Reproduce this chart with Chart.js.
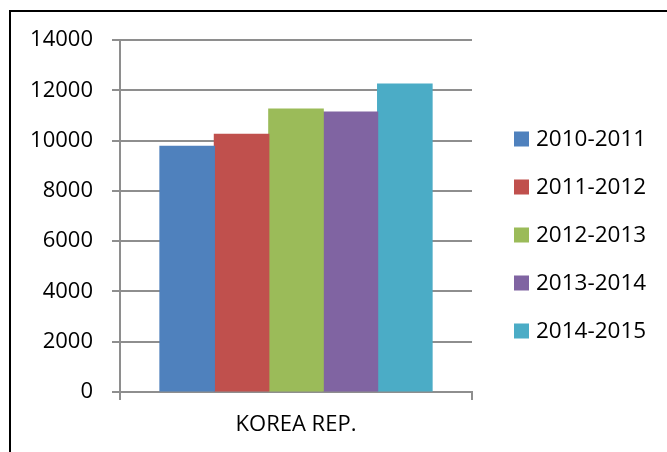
<!DOCTYPE html>
<html>
<head>
<meta charset="utf-8">
<script src="https://cdn.jsdelivr.net/npm/chart.js@4/dist/chart.umd.min.js"></script>
<style>
  html, body { margin: 0; padding: 0; background: #fff; }
  #wrap { position: relative; width: 667px; height: 452px; overflow: hidden; }
  #frame { position: absolute; left: 9px; top: 10px; width: 800px; height: 600px;
           border-left: 2px solid #000; border-top: 2px solid #000; z-index: 2; pointer-events: none; }
  canvas { position: absolute; left: 0; top: 0; }
</style>
</head>
<body>
<div id="wrap">
  <canvas id="c" width="667" height="452"></canvas>
  <div id="frame"></div>
</div>
<script>
const categories = ["KOREA REP."];
const seriesLabels = ["2010-2011", "2011-2012", "2012-2013", "2013-2014", "2014-2015"];
const seriesValues = [9770, 10250, 11250, 11130, 12250];
const seriesColors = ["#4F81BD", "#C0504D", "#9BBB59", "#8064A2", "#4BACC6"];
const yTicks = [0, 2000, 4000, 6000, 8000, 10000, 12000, 14000];

const FONT = "'Open Sans', sans-serif";

const sideLegend = {
  id: "sideLegend",
  afterDraw(chart) {
    const ctx = chart.ctx;
    const area = chart.chartArea;
    ctx.save();
    ctx.font = "22.5px " + FONT;
    ctx.textBaseline = "middle";
    ctx.textAlign = "left";
    chart.data.datasets.forEach((ds, i) => {
      const cy = area.top + 98.5 + i * 48;
      const bx = area.right + 42;
      ctx.fillStyle = ds.backgroundColor;
      ctx.fillRect(bx, cy - 7, 15, 15);
      ctx.fillStyle = "#000";
      ctx.fillText(ds.label, bx + 22, cy + 1);
    });
    ctx.restore();
  }
};

new Chart(document.getElementById("c"), {
  type: "bar",
  data: {
    labels: categories,
    datasets: seriesLabels.map((lab, i) => ({
      label: lab,
      data: [seriesValues[i]],
      backgroundColor: seriesColors[i],
      borderWidth: 0,
      inflateAmount: 0.6,
      barPercentage: 1,
      categoryPercentage: 0.773
    }))
  },
  options: {
    responsive: false,
    animation: false,
    events: [],
    layout: { padding: { left: 0, top: 40, right: 195, bottom: 0 } },
    plugins: {
      legend: { display: false },
      tooltip: { enabled: false }
    },
    scales: {
      x: {
        offset: true,
        afterFit(s) { s.height = 60; },
        grid: { display: true, drawOnChartArea: false, drawTicks: true, tickLength: 8,
                color: "#8e8e8e", lineWidth: 2, offset: true },
        border: { display: true, color: "#8e8e8e", width: 2 },
        ticks: { color: "#000", font: { family: FONT, size: 22 }, padding: 12 }
      },
      y: {
        min: 0,
        max: 14000,
        afterFit(s) { s.width = 120; },
        afterBuildTicks(s) { s.ticks = yTicks.map(v => ({ value: v })); },
        grid: { color: "#8e8e8e", lineWidth: 2, drawTicks: true, tickLength: 8 },
        border: { display: true, color: "#8e8e8e", width: 2 },
        ticks: { color: "#000", font: { family: FONT, size: 22 }, padding: 19,
                 callback: (v) => String(v) }
      }
    }
  },
  plugins: [sideLegend]
});
</script>
</body>
</html>
